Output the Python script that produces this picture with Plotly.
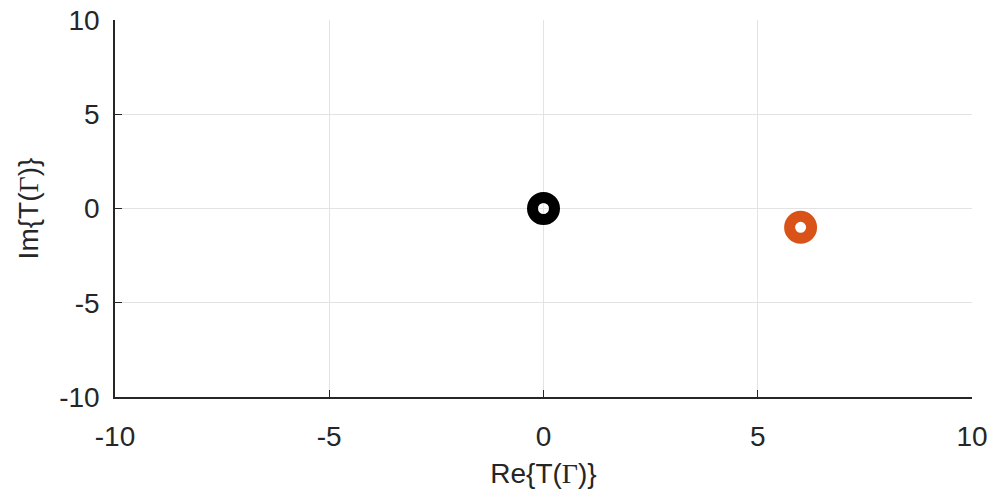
import plotly.graph_objects as go

# Points in the complex plane: real and imaginary parts of T(Γ)
re_vals = [0, 6]
im_vals = [0, -1]
point_colors = ["#000000", "#D95319"]

tick_vals = [-10, -5, 0, 5, 10]
tick_text = ["-10", "-5", "0", "5", "10"]

fig = go.Figure()
for x, y, c in zip(re_vals, im_vals, point_colors):
    fig.add_trace(go.Scatter(
        x=[x], y=[y], mode="markers",
        marker=dict(symbol="circle-open", size=22, color=c,
                    line=dict(width=11, color=c)),
        showlegend=False, hoverinfo="skip",
    ))

axis_common = dict(
    range=[-10, 10],
    tickmode="array", tickvals=tick_vals, ticktext=tick_text,
    showgrid=True, gridcolor="#E3E3E3", gridwidth=1,
    zeroline=False,
    showline=True, linecolor="#262626", linewidth=1.5, mirror=False,
    ticks="inside", ticklen=7, tickcolor="#262626", tickwidth=1,
    tickfont=dict(family="Liberation Sans, Arial, sans-serif", size=28, color="#262626"),
    automargin=False,
)

gamma = '<span style="font-family:Liberation Serif, Times New Roman, serif">Γ</span>'

fig.update_layout(
    width=996, height=501,
    margin=dict(l=115, r=24, t=20, b=104),
    paper_bgcolor="white", plot_bgcolor="white",
    font=dict(family="Liberation Sans, Arial, sans-serif", size=28, color="#262626"),
    xaxis=dict(**axis_common, ticklabelstandoff=14,
               title=dict(text="Re{T(" + gamma + ")}", standoff=12,
                          font=dict(size=28, color="#262626"))),
    yaxis=dict(**axis_common, ticklabelstandoff=8,
               title=dict(text="Im{T(" + gamma + ")}", standoff=12,
                          font=dict(size=28, color="#262626"))),
)

fig.write_html("out.html")
